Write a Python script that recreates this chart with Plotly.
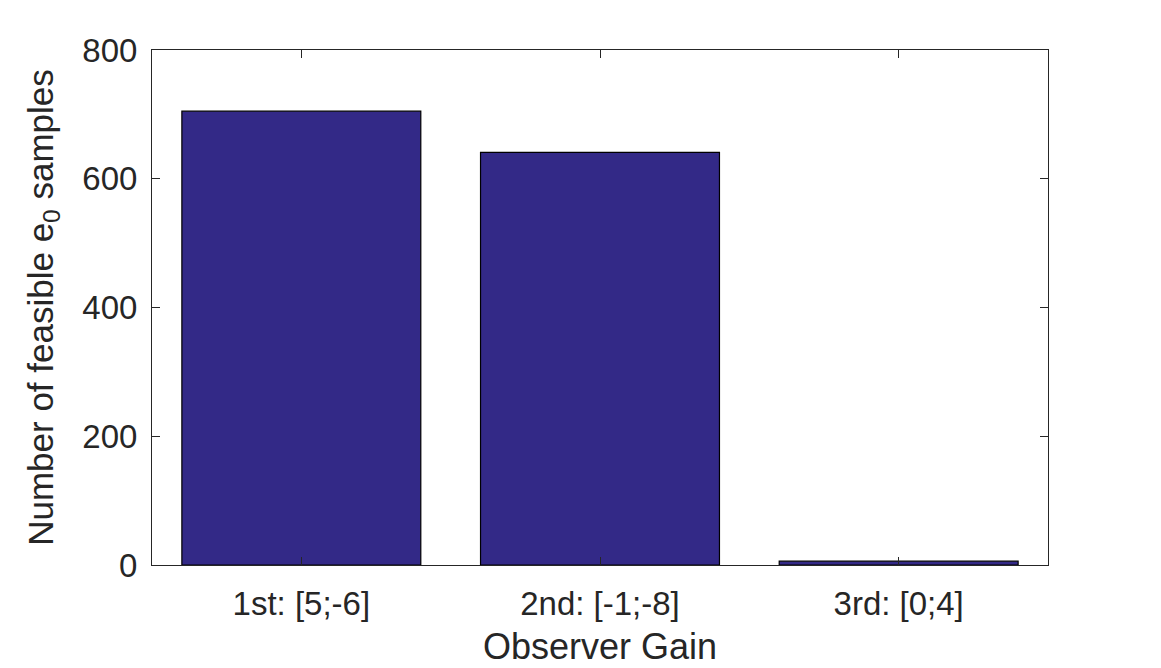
import plotly.graph_objects as go

categories = ["1st: [5;-6]", "2nd: [-1;-8]", "3rd: [0;4]"]
positions = [1, 2, 3]
counts = [705, 641, 6]

axis_col = "rgb(38,38,38)"
fig = go.Figure()
fig.add_trace(go.Bar(
    x=positions, y=counts, width=0.8,
    marker=dict(color="rgb(51,41,135)", line=dict(color="black", width=1.2)),
))
fig.update_layout(
    width=1161, height=668,
    margin=dict(l=152, r=113, t=50, b=103),
    plot_bgcolor="white", paper_bgcolor="white",
    font=dict(family="Liberation Sans, Arial", color=axis_col),
    showlegend=False,
)
fig.update_xaxes(
    range=[0.5, 3.5], tickvals=positions, ticktext=categories,
    showline=True, linecolor=axis_col, linewidth=1, mirror="ticks",
    ticks="inside", ticklen=8, tickcolor=axis_col, showgrid=False, zeroline=False,
    tickfont=dict(size=33), ticklabelstandoff=9, automargin=False,
    title=dict(text="Observer Gain", font=dict(size=36), standoff=13),
)
fig.update_yaxes(
    range=[0, 800], tickvals=[0, 200, 400, 600, 800],
    showline=True, linecolor=axis_col, linewidth=1, mirror="ticks",
    ticks="inside", ticklen=8, tickcolor=axis_col, showgrid=False, zeroline=False,
    tickfont=dict(size=33), ticklabelstandoff=7, automargin=False,
    title=dict(text="Number of feasible e<sub>0</sub> samples", font=dict(size=35), standoff=18),
)
fig.write_html("out.html")
